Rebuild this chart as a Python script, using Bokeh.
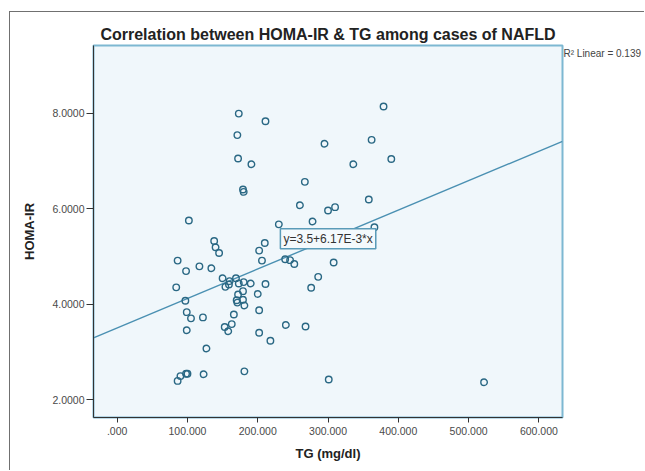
from bokeh.plotting import figure
from bokeh.models import FixedTicker, Range1d, Label
from bokeh.embed import file_html
from bokeh.resources import INLINE

# ---- data ----
tg_mgdl = [173, 211, 171, 172, 191, 179, 180, 102, 230, 260,
           267, 295, 336, 362, 379, 390, 300, 310, 358, 278,
           366, 138, 140, 145, 210, 202, 206, 86, 98, 117,
           134, 239, 246, 252, 308, 286, 276, 84, 150, 160,
           169, 154, 159, 173, 180, 190, 211, 179, 172, 200,
           179, 170, 171, 181, 202, 166, 97, 99, 105, 122,
           99, 153, 163, 158, 202, 218, 240, 268, 127, 86,
           90, 98, 100, 123, 181, 301, 522]
homa_ir = [7.99, 7.83, 7.54, 7.05, 6.93, 6.40, 6.35, 5.75, 5.67, 6.07,
           6.56, 7.36, 6.93, 7.44, 8.14, 7.04, 5.96, 6.03, 6.19, 5.73,
           5.61, 5.32, 5.19, 5.07, 5.28, 5.12, 4.91, 4.91, 4.69, 4.79,
           4.75, 4.94, 4.92, 4.84, 4.87, 4.57, 4.34, 4.35, 4.54, 4.48,
           4.54, 4.36, 4.41, 4.43, 4.46, 4.43, 4.42, 4.27, 4.20, 4.21,
           4.09, 4.08, 4.03, 3.97, 3.87, 3.78, 4.07, 3.83, 3.70, 3.72,
           3.45, 3.52, 3.58, 3.43, 3.40, 3.23, 3.56, 3.53, 3.07, 2.39,
           2.49, 2.54, 2.54, 2.53, 2.59, 2.42, 2.36]

fit_intercept = 3.5
fit_slope = 6.17e-3
fit_label = "y=3.5+6.17E-3*x"
r2_label = "R\u00b2 Linear = 0.139"

x_ticks = [0, 100, 200, 300, 400, 500, 600]
x_tick_labels = [".000", "100.000", "200.000", "300.000", "400.000", "500.000", "600.000"]
y_ticks = [2, 4, 6, 8]
y_tick_labels = ["2.0000", "4.0000", "6.0000", "8.0000"]

title_text = "Correlation between HOMA-IR & TG among cases of NAFLD"
x_title = "TG (mg/dl)"
y_title = "HOMA-IR"

FONT = "Liberation Sans"

x_lo, x_hi = -33.7, 633.6
y_lo, y_hi = 1.623, 9.417

p = figure(width=635, height=459, output_backend="svg", toolbar_location=None,
           x_range=Range1d(x_lo, x_hi), y_range=Range1d(y_lo, y_hi),
           min_border_left=83, min_border_right=83, min_border_top=33,
           min_border_bottom=54, title=title_text)

p.styles = {"border-top": "1px solid #707070", "border-left": "1px solid #707070",
            "margin-top": "11px", "margin-left": "9px"}

p.background_fill_color = "#f0f7fb"
p.border_fill_color = "white"
p.outline_line_color = "#7db8d2"
p.outline_line_width = 2
p.grid.visible = False

p.title.text_font = FONT
p.title.text_font_size = "16px"
p.title.text_font_style = "bold"
p.title.text_color = "#222222"
p.title.align = "center"
p.title.standoff = 6

for ax in (p.xaxis[0], p.yaxis[0]):
    ax.axis_line_color = "#333333"
    ax.axis_line_width = 1
    ax.major_tick_line_color = "#333333"
    ax.minor_tick_line_color = None
    ax.major_tick_in = 0
    ax.major_label_text_font = FONT
    ax.major_label_text_font_size = "10.5px"
    ax.major_label_text_color = "#4a4a4a"
    ax.axis_label_text_font = FONT
    ax.axis_label_text_font_style = "bold"
    ax.axis_label_text_font_size = "13px"
    ax.axis_label_text_color = "#222222"

p.xaxis.ticker = FixedTicker(ticks=x_ticks)
p.xaxis.major_label_overrides = dict(zip(x_ticks, x_tick_labels))
p.xaxis.major_tick_out = 5
p.xaxis.major_label_standoff = 4
p.xaxis.axis_label = x_title
p.xaxis.axis_label_standoff = 8

p.yaxis.ticker = FixedTicker(ticks=y_ticks)
p.yaxis.major_label_overrides = dict(zip(y_ticks, y_tick_labels))
p.yaxis.major_tick_out = 7
p.yaxis.major_label_standoff = 2
p.yaxis.axis_label = y_title
p.yaxis.axis_label_standoff = 12

# regression line
fx = [x_lo, x_hi]
fy = [fit_intercept + fit_slope * v for v in fx]
p.line(fx, fy, line_color="#4a90b2", line_width=1.4)

# scatter points
p.scatter(tg_mgdl, homa_ir, marker="circle", size=6.5, fill_alpha=0,
          line_color="#2a6884", line_width=1.4)

# equation label
p.add_layout(Label(x=232.2, y=5.366, text=fit_label, text_font=FONT,
                   text_font_size="12px", text_color="#333333",
                   text_align="left", text_baseline="middle",
                   background_fill_color="#f4f9fc", border_line_color="#5a9bb8",
                   border_line_width=1.5, padding=3))

# R^2 label, outside the frame at top right (side panel so it is not clipped)
p.add_layout(Label(x=x_hi, y=9.25, x_offset=1, text=r2_label, text_font=FONT,
                   text_font_size="10px", text_color="#444444",
                   text_align="left", text_baseline="middle"), "right")

open("out.html", "w").write(file_html(p, INLINE))
